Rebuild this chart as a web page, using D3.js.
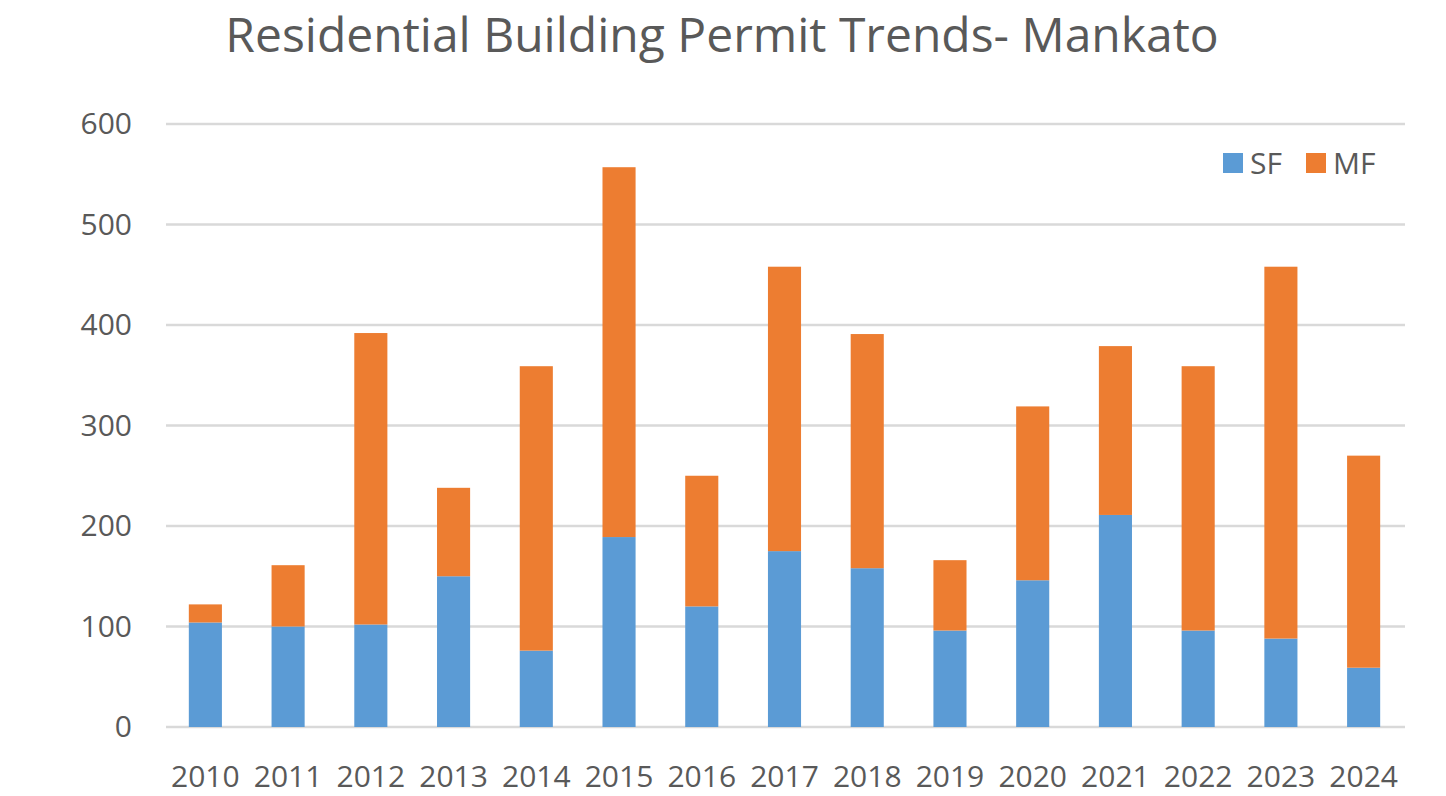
<!DOCTYPE html>
<html><head><meta charset="utf-8">
<script src="https://cdn.jsdelivr.net/npm/d3@7"></script>
<style>body{margin:0;background:#fff}svg{display:block}</style>
</head><body>
<svg id="c" width="1446" height="796"></svg>
<script>
const years = ["2010","2011","2012","2013","2014","2015","2016","2017","2018","2019","2020","2021","2022","2023","2024"];
const sf = [104,100,102,150,76,189,120,175,158,96,146,211,96,88,59];
const mf = [18,61,290,88,283,368,130,283,233,70,173,168,263,370,211];
const yTicks = [0,100,200,300,400,500,600];
const seriesNames = ["SF","MF"];
const colors = ["#5B9BD5","#ED7D31"];
const title = "Residential Building Permit Trends- Mankato";

const svg = d3.select("#c");
const font = "'Open Sans', 'Noto Sans', sans-serif";
const x = d3.scaleBand().domain(years).range([164,1405]).paddingInner(0.6).paddingOuter(0.3);
const y = d3.scaleLinear().domain([0,600]).range([727,124]);

const data = years.map((yr,i)=>({year:yr, SF:sf[i], MF:mf[i]}));
const stack = d3.stack().keys(seriesNames)(data);

// gridlines
svg.append("g").selectAll("line").data(yTicks).join("line")
  .attr("x1",166).attr("x2",1405)
  .attr("y1",d=>y(d)).attr("y2",d=>y(d))
  .attr("stroke","#D9D9D9").attr("stroke-width",2.5);

// bars
svg.append("g").selectAll("g").data(stack).join("g")
  .attr("fill",(d,i)=>colors[i])
  .selectAll("rect").data(d=>d).join("rect")
  .attr("x",d=>x(d.data.year)).attr("width",x.bandwidth())
  .attr("y",d=>y(d[1])).attr("height",d=>y(d[0])-y(d[1]));

// y axis labels
const yAxis = d3.axisLeft(y).tickValues(yTicks).tickSize(0).tickPadding(34);
const ya = svg.append("g").attr("transform","translate(166,0)").call(yAxis);
ya.select(".domain").remove();
ya.selectAll("text").attr("font-family",font).attr("font-size",30).attr("fill","#595959");

// x axis labels
const xAxis = d3.axisBottom(x).tickSize(0);
const xa = svg.append("g").attr("transform","translate(0,727)").call(xAxis);
xa.select(".domain").remove();
xa.selectAll("text").attr("y",60).attr("dy",0)
  .attr("font-family",font).attr("font-size",30).attr("fill","#595959");

// title
svg.append("text").attr("x",722).attr("y",52).attr("text-anchor","middle")
  .attr("font-family",font).attr("font-size",48).attr("fill","#595959").text(title);

// legend
const leg = svg.append("g");
const legX = [1223,1306];
seriesNames.forEach((n,i)=>{
  leg.append("rect").attr("x",legX[i]).attr("y",153).attr("width",20).attr("height",20).attr("fill",colors[i]);
  leg.append("text").attr("x",legX[i]+27).attr("y",174).attr("font-family",font).attr("font-size",30).attr("fill","#595959").text(n);
});
</script>
</body></html>
